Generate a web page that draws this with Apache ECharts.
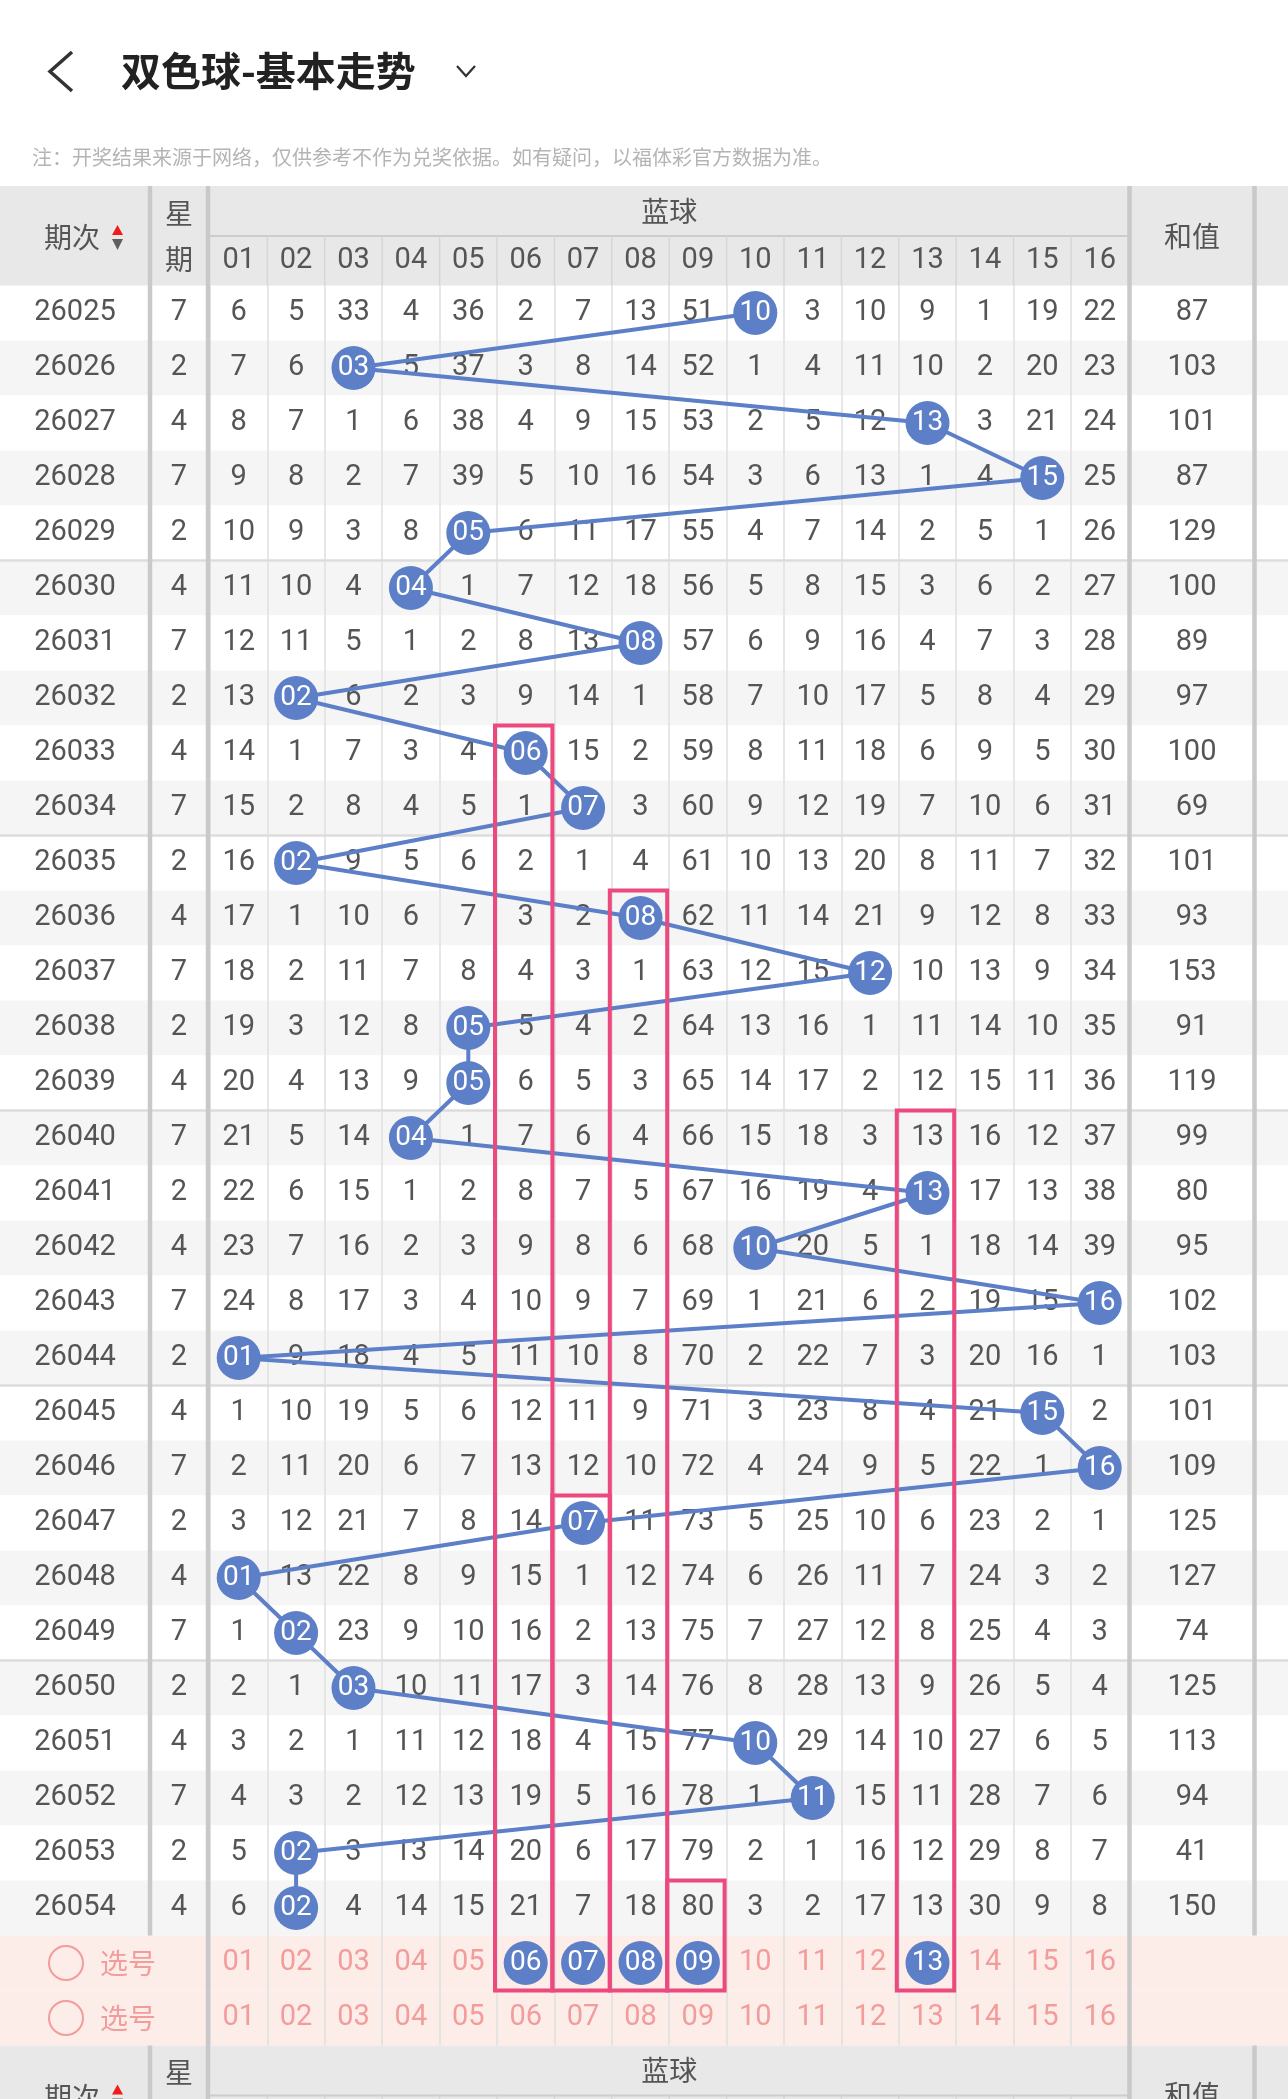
<!DOCTYPE html>
<html>
<head>
<meta charset="utf-8">
<script src="https://cdn.jsdelivr.net/npm/echarts@6/dist/echarts.min.js"></script>
<style>html,body{margin:0;padding:0;background:#fff;}#c{width:1288px;height:2099px;}</style>
</head>
<body>
<div id="c"></div>
<script>
// ---------------- DATA ----------------
const pageTitle = '双色球-基本走势';
const noteText = '注：开奖结果来源于网络，仅供参考不作为兑奖依据。如有疑问，以福体彩官方数据为准。';
const periods = ['26025','26026','26027','26028','26029','26030','26031','26032','26033','26034',
  '26035','26036','26037','26038','26039','26040','26041','26042','26043','26044',
  '26045','26046','26047','26048','26049','26050','26051','26052','26053','26054'];
const weekdays = [7,2,4,7,2,4,7,2,4,7, 2,4,7,2,4,7,2,4,7,2, 4,7,2,4,7,2,4,7,2,4];
const ballNumbers = ['01','02','03','04','05','06','07','08','09','10','11','12','13','14','15','16'];
const blueBalls = [10,3,13,15,5,4,8,2,6,7,2,8,12,5,5,4,13,10,16,1,15,16,7,1,2,3,10,11,2,2];
const sums = [87,103,101,87,129,100,89,97,100,69,101,93,153,91,119,99,80,95,102,103,101,109,125,127,74,125,113,94,41,150];
// missing counts per period (0 = drawn ball)
const missing = [
  [6,5,33,4,36,2,7,13,51,0,3,10,9,1,19,22],
  [7,6,0,5,37,3,8,14,52,1,4,11,10,2,20,23],
  [8,7,1,6,38,4,9,15,53,2,5,12,0,3,21,24],
  [9,8,2,7,39,5,10,16,54,3,6,13,1,4,0,25],
  [10,9,3,8,0,6,11,17,55,4,7,14,2,5,1,26],
  [11,10,4,0,1,7,12,18,56,5,8,15,3,6,2,27],
  [12,11,5,1,2,8,13,0,57,6,9,16,4,7,3,28],
  [13,0,6,2,3,9,14,1,58,7,10,17,5,8,4,29],
  [14,1,7,3,4,0,15,2,59,8,11,18,6,9,5,30],
  [15,2,8,4,5,1,0,3,60,9,12,19,7,10,6,31],
  [16,0,9,5,6,2,1,4,61,10,13,20,8,11,7,32],
  [17,1,10,6,7,3,2,0,62,11,14,21,9,12,8,33],
  [18,2,11,7,8,4,3,1,63,12,15,0,10,13,9,34],
  [19,3,12,8,0,5,4,2,64,13,16,1,11,14,10,35],
  [20,4,13,9,0,6,5,3,65,14,17,2,12,15,11,36],
  [21,5,14,0,1,7,6,4,66,15,18,3,13,16,12,37],
  [22,6,15,1,2,8,7,5,67,16,19,4,0,17,13,38],
  [23,7,16,2,3,9,8,6,68,0,20,5,1,18,14,39],
  [24,8,17,3,4,10,9,7,69,1,21,6,2,19,15,0],
  [0,9,18,4,5,11,10,8,70,2,22,7,3,20,16,1],
  [1,10,19,5,6,12,11,9,71,3,23,8,4,21,0,2],
  [2,11,20,6,7,13,12,10,72,4,24,9,5,22,1,0],
  [3,12,21,7,8,14,0,11,73,5,25,10,6,23,2,1],
  [0,13,22,8,9,15,1,12,74,6,26,11,7,24,3,2],
  [1,0,23,9,10,16,2,13,75,7,27,12,8,25,4,3],
  [2,1,0,10,11,17,3,14,76,8,28,13,9,26,5,4],
  [3,2,1,11,12,18,4,15,77,0,29,14,10,27,6,5],
  [4,3,2,12,13,19,5,16,78,1,0,15,11,28,7,6],
  [5,0,3,13,14,20,6,17,79,2,1,16,12,29,8,7],
  [6,0,4,14,15,21,7,18,80,3,2,17,13,30,9,8]
];
const pickLabel = '选号';
const pickRows = ['选号1','选号2'];
const pickedBalls = ['06','07','08','09','13'];
const boxCols = ['06','07','08','09','13'];
const boxStartPeriods = ['26033','26047','26036','26054','26040'];
const headerTexts = { period: '期次', week1: '星', week2: '期', blue: '蓝球', sum: '和值' };

// ---------------- LAYOUT / STYLE ----------------
const TOP = 285.5, ROW_H = 55, rowCats = periods.concat(pickRows), NR = rowCats.length;
const GH = NR * ROW_H;
const NL = 210, NW = 918.4;
const BLUE = '#5d7fc7', PINK = '#ec4a7e', SALMON = '#f29c9c', TXT = '#555555';
const NUMF = 'Roboto', CJK = '"Noto Sans CJK SC"';

function txt(x, y, s, size, color, family, align) {
  return { type: 'text', x, y, style: { text: s, fill: color, fontSize: size, fontFamily: family,
    textAlign: align || 'center', align: align || 'center', textVerticalAlign: 'middle', verticalAlign: 'middle' } };
}

const chart = echarts.init(document.getElementById('c'), null, { width: 1288, height: 2099 });

const yAxes = [0,1,2,3,4].map(g => ({ type: 'category', gridIndex: g, data: rowCats, inverse: true, show: false }));

const cellData = [];
missing.forEach((row, r) => row.forEach((v, c) => { if (v !== 0) cellData.push([c, r, v]); }));
const pickNumData = [];
ballNumbers.forEach((b, c) => {
  if (pickedBalls.indexOf(b) < 0) pickNumData.push([c, periods.length]);
  pickNumData.push([c, periods.length + 1]);
});

const option = {
  animation: false,
  backgroundColor: '#ffffff',
  title: [
    { text: pageTitle, left: 121, top: 51, padding: 0,
      textStyle: { fontSize: 40, fontWeight: 'bold', color: '#222', fontFamily: CJK } },
    { text: noteText, left: 32, top: 147, padding: 0,
      textStyle: { fontSize: 20, fontWeight: 'normal', color: '#b4b4b4', fontFamily: CJK } }
  ],
  grid: [
    { left: 0, top: TOP, width: 1288, height: GH },
    { left: 0, top: TOP, width: 150, height: GH },
    { left: 150, top: TOP, width: 58, height: GH },
    { left: NL, top: TOP, width: NW, height: GH },
    { left: 1129.5, top: TOP, width: 125, height: GH }
  ],
  xAxis: [
    { type: 'value', gridIndex: 0, min: 0, max: 1, show: false },
    { type: 'category', gridIndex: 1, data: [headerTexts.period], show: false },
    { type: 'category', gridIndex: 2, data: ['星期'], show: false },
    { type: 'category', gridIndex: 3, data: ballNumbers, position: 'top', z: 5,
      axisLine: { show: false }, axisTick: { show: false },
      axisLabel: { margin: 24.5, verticalAlign: 'middle', fontSize: 29, color: TXT, fontFamily: NUMF },
      splitLine: { show: true, lineStyle: { color: '#dfdfdf', width: 1.5 } } },
    { type: 'category', gridIndex: 4, data: [headerTexts.sum], show: false }
  ],
  yAxis: yAxes,
  series: [
    { // row backgrounds
      type: 'custom', xAxisIndex: 0, yAxisIndex: 0, z: 1, silent: true,
      data: rowCats.map((_, i) => [0, i]),
      renderItem(params, api) {
        const row = api.value(1), p = api.coord([0, row]), h = api.size([0, 1])[1], cs = params.coordSys;
        const fill = row >= periods.length ? '#fdede9' : (row % 2 ? '#f5f5f5' : '#ffffff');
        return { type: 'rect', shape: { x: cs.x, y: p[1] - h / 2, width: cs.width, height: h }, style: { fill } };
      }
    },
    { // 5-row group separators
      type: 'custom', xAxisIndex: 0, yAxisIndex: 0, z: 6, silent: true,
      data: periods.map((_, i) => [0, i]).filter(d => d[1] % 5 === 4 && d[1] < periods.length - 1),
      renderItem(params, api) {
        const p = api.coord([0, api.value(1)]), h = api.size([0, 1])[1], cs = params.coordSys, y = p[1] + h / 2;
        return { type: 'line', shape: { x1: cs.x, y1: y, x2: cs.x + cs.width, y2: y }, style: { stroke: '#dcdcdc', lineWidth: 2.5 } };
      }
    },
    { // period text
      type: 'custom', xAxisIndex: 1, yAxisIndex: 1, z: 8, silent: true,
      data: periods.map((_, i) => [0, i]),
      renderItem(params, api) {
        const p = api.coord([0, api.value(1)]);
        return txt(p[0], p[1], periods[params.dataIndex], 29, TXT, NUMF);
      }
    },
    { // weekday text
      type: 'custom', xAxisIndex: 2, yAxisIndex: 2, z: 8, silent: true,
      data: weekdays.map((w, i) => [0, i, w]),
      renderItem(params, api) {
        const p = api.coord([0, api.value(1)]);
        return txt(p[0], p[1], String(api.value(2)), 29, TXT, NUMF);
      }
    },
    { // missing counts
      type: 'custom', xAxisIndex: 3, yAxisIndex: 3, z: 8, silent: true,
      data: cellData,
      renderItem(params, api) {
        const p = api.coord([api.value(0), api.value(1)]);
        return txt(p[0], p[1], String(api.value(2)), 29, TXT, NUMF);
      }
    },
    { // sums
      type: 'custom', xAxisIndex: 4, yAxisIndex: 4, z: 8, silent: true,
      data: sums.map((s, i) => [0, i, s]),
      renderItem(params, api) {
        const p = api.coord([0, api.value(1)]);
        return txt(p[0], p[1], String(api.value(2)), 29, TXT, NUMF);
      }
    },
    { // pick row numbers
      type: 'custom', xAxisIndex: 3, yAxisIndex: 3, z: 8, silent: true,
      data: pickNumData,
      renderItem(params, api) {
        const c = api.value(0), p = api.coord([c, api.value(1)]);
        return txt(p[0], p[1], ballNumbers[c], 29, SALMON, NUMF);
      }
    },
    { // pick row labels
      type: 'custom', xAxisIndex: 0, yAxisIndex: 0, z: 8, silent: true,
      data: pickRows.map((_, i) => [0, periods.length + i]),
      renderItem(params, api) {
        const p = api.coord([0, api.value(1)]), cs = params.coordSys;
        return { type: 'group', children: [
          { type: 'circle', shape: { cx: cs.x + 66, cy: p[1], r: 17 }, style: { fill: 'none', stroke: SALMON, lineWidth: 2 } },
          txt(cs.x + 100, p[1], pickLabel, 28, SALMON, CJK, 'left')
        ] };
      }
    },
    { // blue ball trend line
      type: 'line', xAxisIndex: 3, yAxisIndex: 3, z: 10, silent: true,
      data: blueBalls.map((b, i) => [b - 1, i]),
      symbol: 'circle', symbolSize: 44, showAllSymbol: true,
      itemStyle: { color: BLUE },
      lineStyle: { color: BLUE, width: 4 },
      label: { show: true, position: 'inside', color: '#fff', fontSize: 28, fontFamily: NUMF,
        formatter: p => ballNumbers[p.value[0]] },
      emphasis: { disabled: true }
    },
    { // picked balls
      type: 'scatter', xAxisIndex: 3, yAxisIndex: 3, z: 10, silent: true,
      data: pickedBalls.map(b => [ballNumbers.indexOf(b), periods.length]),
      symbol: 'circle', symbolSize: 44, itemStyle: { color: BLUE, opacity: 1 },
      label: { show: true, position: 'inside', color: '#fff', fontSize: 28, fontFamily: NUMF,
        formatter: p => ballNumbers[p.value[0]] },
      emphasis: { disabled: true }
    },
    { // pink highlight boxes
      type: 'custom', xAxisIndex: 3, yAxisIndex: 3, z: 12, silent: true,
      data: boxCols.map((c, i) => [ballNumbers.indexOf(c), periods.indexOf(boxStartPeriods[i])]),
      renderItem(params, api) {
        const c = api.value(0), s = api.value(1);
        const a = api.coord([c, s]), b = api.coord([c, periods.length]), sz = api.size([1, 1]);
        const x = a[0] - sz[0] / 2 - 2, y = a[1] - sz[1] / 2;
        return { type: 'rect', shape: { x, y, width: sz[0], height: b[1] + sz[1] / 2 - y },
          style: { fill: 'none', stroke: PINK, lineWidth: 4 } };
      }
    }
  ]
};
chart.setOption(option);

// ---------- header & dividers (positions from axis scale) ----------
const bw = NW / ballNumbers.length;
function headerEls(H) {
  const els = [];
  els.push({ type: 'rect', z: 2, shape: { x: 0, y: H, width: 1288, height: 99.5 }, style: { fill: '#e8e8e8' } });
  const xl = chart.convertToPixel({ xAxisIndex: 3 }, 0) - bw / 2;
  const xr = chart.convertToPixel({ xAxisIndex: 3 }, ballNumbers.length - 1) + bw / 2;
  els.push({ type: 'line', z: 3, shape: { x1: xl, y1: H + 50, x2: xr, y2: H + 50 }, style: { stroke: '#cccccc', lineWidth: 2 } });
  for (let i = 1; i < ballNumbers.length; i++) {
    const x = chart.convertToPixel({ xAxisIndex: 3 }, i) - bw / 2;
    els.push({ type: 'line', z: 3, shape: { x1: x, y1: H + 50, x2: x, y2: H + 99.5 }, style: { stroke: '#d6d6d6', lineWidth: 1.5 } });
  }
  const t = [
    txt(72, H + 51.5, headerTexts.period, 28, TXT, CJK),
    txt(179, H + 27, headerTexts.week1, 28, TXT, CJK),
    txt(179, H + 73, headerTexts.week2, 28, TXT, CJK),
    txt((xl + xr) / 2, H + 25, headerTexts.blue, 28, TXT, CJK),
    txt(1192, H + 50, headerTexts.sum, 28, TXT, CJK)
  ];
  t.forEach(e => { e.z = 7; els.push(e); });
  els.push({ type: 'polygon', z: 7, shape: { points: [[112, H + 49], [117.5, H + 39], [123, H + 49]] }, style: { fill: '#ee1c1c' } });
  els.push({ type: 'polygon', z: 7, shape: { points: [[112, H + 53], [117.5, H + 64], [123, H + 53]] }, style: { fill: '#5f5f5f' } });
  return els;
}
const H1 = 186, H2 = TOP + GH, DATA_END = TOP + periods.length * ROW_H;
const els = [].concat(headerEls(H1), headerEls(H2));
const DIV = '#c9c9c9';
[[150, H1, DATA_END], [150, H2, 2099], [208, H1, 2099], [1129.5, H1, 2099], [1254.5, H1, DATA_END], [1254.5, H2, 2099]]
  .forEach(d => els.push({ type: 'line', z: 6, shape: { x1: d[0], y1: d[1], x2: d[0], y2: d[2] }, style: { stroke: DIV, lineWidth: 4.5 } }));
// back arrow and dropdown chevron
els.push({ type: 'polyline', z: 7, shape: { points: [[72, 52], [50, 71.5], [72, 91]] }, style: { stroke: '#333', lineWidth: 3.5, fill: 'none' } });
els.push({ type: 'polyline', z: 7, shape: { points: [[457, 66], [466, 76], [475, 66]] }, style: { stroke: '#333', lineWidth: 2.2, fill: 'none' } });
chart.setOption({ graphic: { elements: els } });
</script>
</body>
</html>
